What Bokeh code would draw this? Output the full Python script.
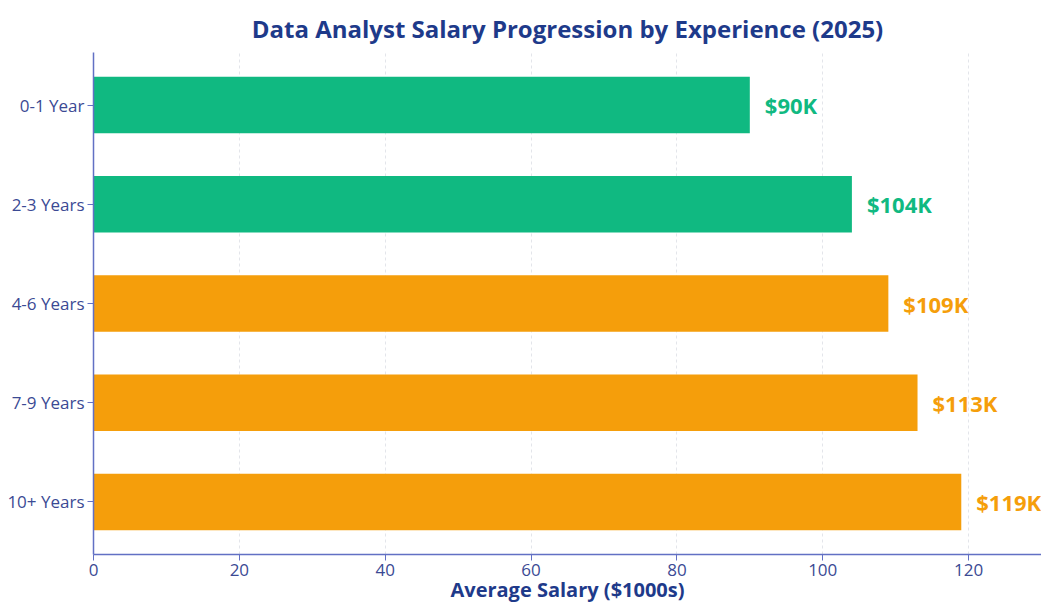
from bokeh.plotting import figure
from bokeh.models import ColumnDataSource, FactorRange, Range1d, FixedTicker
from bokeh.core.properties import value
from bokeh.embed import file_html
from bokeh.resources import INLINE

categories = ["0-1 Year", "2-3 Years", "4-6 Years", "7-9 Years", "10+ Years"]
salaries = [90, 104, 109, 113, 119]
bar_colors = ["#10b981", "#10b981", "#f59e0b", "#f59e0b", "#f59e0b"]
labels = ["$90K", "$104K", "$109K", "$113K", "$119K"]
x_ticks = [0, 20, 40, 60, 80, 100, 120]
title_text = "Data Analyst Salary Progression by Experience (2025)"
x_title = "Average Salary ($1000s)"

src = ColumnDataSource(dict(cat=categories, sal=salaries, color=bar_colors, lab=labels))

NAVY = "#1e3a8a"
TICK = "#3b4a94"
AXIS = "#6270c4"

p = figure(
    width=1041, height=605,
    y_range=FactorRange(*reversed(categories), range_padding=0.012),
    x_range=Range1d(0, 130),
    output_backend="svg", toolbar_location=None,
    title=title_text,
    min_border_left=93, min_border_right=0, min_border_top=52, min_border_bottom=49,
)
p.title.align = "center"
p.title.text_font = "Open Sans"
p.title.text_font_style = "bold"
p.title.text_font_size = "24px"
p.title.text_color = NAVY
p.title.standoff = 16

p.hbar(y="cat", left=0, right="sal", height=0.57, color="color", line_color=None, source=src)
p.text(x="sal", y="cat", text="lab", text_color="color", source=src,
       x_offset=15, text_baseline="middle", text_align="left",
       text_font=value("Open Sans"), text_font_style="bold", text_font_size="22px")

p.outline_line_color = None
p.ygrid.grid_line_color = None
p.xgrid.grid_line_color = "#e3e5ea"
p.xgrid.grid_line_dash = "3 3"
p.xaxis.ticker = FixedTicker(ticks=x_ticks)
p.xaxis.minor_tick_line_color = None

for ax in (p.xaxis[0], p.yaxis[0]):
    ax.axis_line_color = AXIS
    ax.axis_line_width = 1.5
    ax.major_tick_line_color = AXIS
    ax.major_tick_out = 6
    ax.major_tick_in = 0
    ax.major_label_text_color = TICK
    ax.major_label_text_font = "Open Sans"
    ax.major_label_text_font_size = "17px"

p.yaxis.major_label_standoff = 3
p.xaxis.major_label_standoff = 3
p.xaxis.axis_label = x_title
p.xaxis.axis_label_text_font = "Open Sans"
p.xaxis.axis_label_text_font_style = "bold"
p.xaxis.axis_label_text_font_size = "20px"
p.xaxis.axis_label_text_color = NAVY
p.xaxis.axis_label_standoff = -3

open("out.html", "w").write(file_html(p, INLINE))
